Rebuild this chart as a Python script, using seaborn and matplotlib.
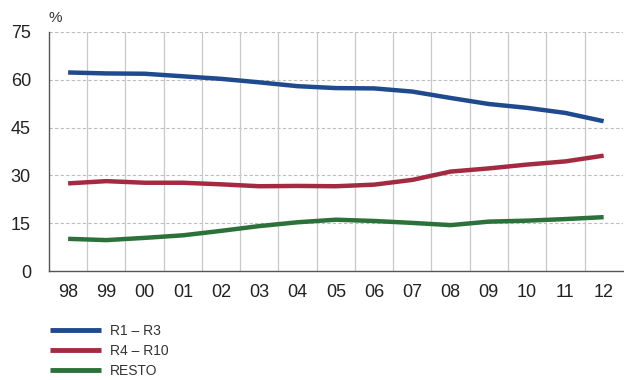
import matplotlib
matplotlib.use("Agg")
import matplotlib.pyplot as plt
import seaborn as sns
import pandas as pd
import numpy as np
from matplotlib.lines import Line2D

years = ["98", "99", "00", "01", "02", "03", "04", "05", "06", "07", "08", "09", "10", "11", "12"]
r1_r3 = [62.3, 62.0, 61.9, 61.1, 60.3, 59.2, 58.0, 57.4, 57.3, 56.3, 54.3, 52.4, 51.2, 49.6, 47.0]
r4_r10 = [27.5, 28.2, 27.7, 27.7, 27.2, 26.6, 26.7, 26.6, 27.1, 28.6, 31.2, 32.2, 33.4, 34.4, 36.2]
resto = [10.1, 9.7, 10.4, 11.2, 12.6, 14.1, 15.3, 16.1, 15.7, 15.1, 14.4, 15.5, 15.8, 16.3, 16.9]
series_names = ["R1 – R3", "R4 – R10", "RESTO"]
colors = ["#1f4a8e", "#a22b41", "#2b7139"]
y_ticks = [0, 15, 30, 45, 60, 75]

df = pd.DataFrame({
    "pos": list(range(len(years))) * 3,
    "value": r1_r3 + r4_r10 + resto,
    "serie": [s for s in series_names for _ in years],
})

sns.set_style("white")
plt.rcParams["font.family"] = ["Liberation Sans", "DejaVu Sans"]

fig = plt.figure(figsize=(6.24, 3.80), dpi=100)
ax = fig.add_axes([0.0785, 0.2868, 0.9195, 0.629])

# grid: dashed horizontals, solid verticals at category boundaries
for y in y_ticks[1:]:
    ax.axhline(y, color="#bdbdbd", lw=0.8, ls=(0, (3, 2)), zorder=0)
for b in np.arange(0.5, len(years) - 0.5, 1.0):
    ax.axvline(b, color="#c8c8c8", lw=0.9, zorder=0)

sns.lineplot(data=df, x="pos", y="value", hue="serie", palette=colors,
             linewidth=3.2, legend=False, ax=ax, solid_capstyle="butt",
             solid_joinstyle="round")

ax.set_xlim(-0.5, len(years) - 0.5)
ax.set_ylim(0, 75)
ax.set_xticks(range(len(years)))
ax.set_xticklabels(years)
ax.set_xticks(np.arange(-0.5, len(years), 1.0), minor=True)
ax.set_yticks(y_ticks)
ax.tick_params(axis="x", which="major", length=0, labelsize=13, colors="#222222", pad=9)
ax.tick_params(axis="x", which="minor", length=4, width=0.9, color="#555555", direction="out")
ax.tick_params(axis="y", length=3, width=0.9, color="#555555", labelsize=13,
               labelcolor="#222222", pad=10)
ax.set_xlabel("")
ax.set_ylabel("")

for side in ["top", "right"]:
    ax.spines[side].set_visible(False)
for side in ["left", "bottom"]:
    ax.spines[side].set_color("#555555")
    ax.spines[side].set_linewidth(1.0)

fig.text(0.088, 0.953, "%", fontsize=11, color="#333333", ha="center", va="center")

handles = [Line2D([], [], color=c, lw=3.5, solid_capstyle="butt") for c in colors]
leg = fig.legend(handles, series_names, loc="upper left", bbox_to_anchor=(0.080, 0.147),
                 frameon=False, fontsize=10, handlelength=3.7, handletextpad=0.65,
                 labelspacing=0.42, borderaxespad=0, borderpad=0)
for t in leg.get_texts():
    t.set_color("#333333")
    t.set_family(["Liberation Sans Narrow", "Liberation Sans", "DejaVu Sans"])

fig.savefig("out.png", dpi=100)
